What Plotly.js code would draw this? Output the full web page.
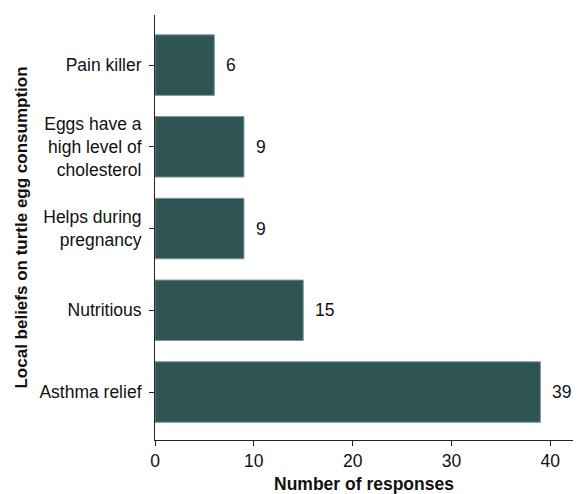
<!DOCTYPE html>
<html>
<head>
<meta charset="utf-8">
<script src="https://cdn.plot.ly/plotly-3.0.1.min.js"></script>
<style>html,body{margin:0;padding:0;background:#fff;}#chart{width:579px;height:494px;}</style>
</head>
<body>
<div id="chart"></div>
<script>
const categories = ["Asthma relief", "Nutritious", "Helps during<br>pregnancy", "Eggs have a<br>high level of<br>cholesterol", "Pain killer"];
const responses = [39, 15, 9, 9, 6];
const xTickValues = [0, 10, 20, 30, 40];
const xTitle = "Number of responses";
const yTitle = "Local beliefs on turtle egg consumption";

const fontFamily = "Liberation Sans, Arial, sans-serif";

const trace = {
  type: "bar",
  orientation: "h",
  x: responses,
  y: categories,
  width: 0.74,
  marker: { color: "#2e5553", line: { color: "#7a9795", width: 1 } },
  hoverinfo: "none"
};

const annotations = responses.map((v, i) => ({
  x: v, y: categories[i], xref: "x", yref: "y",
  text: String(v), showarrow: false, xanchor: "left", yanchor: "middle",
  xshift: 10, font: { family: fontFamily, size: 17.5, color: "#111" }
}));

const layout = {
  width: 579, height: 494,
  margin: { l: 155, r: 6, t: 15, b: 54 },
  paper_bgcolor: "#fff", plot_bgcolor: "#fff",
  showlegend: false,
  font: { family: fontFamily, size: 17.5, color: "#111" },
  xaxis: {
    range: [0, 42.3], tickvals: xTickValues, ticktext: xTickValues.map(String),
    showgrid: false, zeroline: false, showline: true, linecolor: "#222", linewidth: 1,
    ticks: "outside", ticklen: 5, tickcolor: "#222",
    tickfont: { family: fontFamily, size: 17.5, color: "#111" },
    title: { text: "<b>" + xTitle + "</b>", font: { family: fontFamily, size: 17.5, color: "#111" }, standoff: 12 },
    automargin: false
  },
  yaxis: {
    type: "category", categoryorder: "array", categoryarray: categories,
    range: [-0.587, 4.613],
    showgrid: false, zeroline: false, showline: true, linecolor: "#222", linewidth: 1,
    ticks: "outside", ticklen: 5, tickcolor: "#222", ticklabelstandoff: 4,
    tickfont: { family: fontFamily, size: 17.5, color: "#111" },
    title: { text: "<b>" + yTitle + "</b>", font: { family: fontFamily, size: 17, color: "#111" }, standoff: 7 },
    automargin: false
  },
  annotations: annotations
};

Plotly.newPlot("chart", [trace], layout, { displayModeBar: false, staticPlot: true });
</script>
</body>
</html>
